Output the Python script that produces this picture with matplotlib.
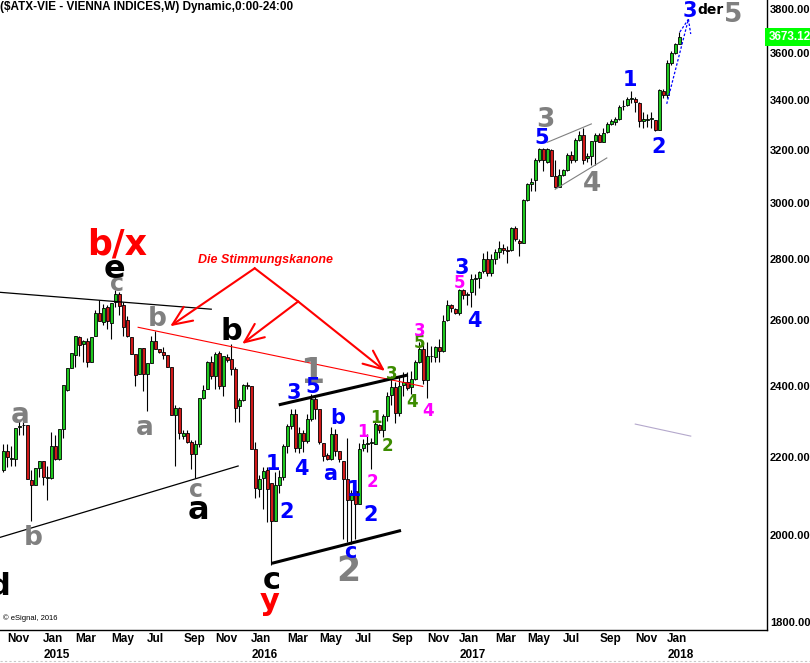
import matplotlib
matplotlib.use("Agg")
import matplotlib.pyplot as plt
import matplotlib.dates as mdates
from matplotlib.lines import Line2D
from matplotlib.ticker import FixedLocator, FuncFormatter, NullLocator
import pandas as pd

plt.rcParams["font.family"] = ["Liberation Sans", "DejaVu Sans"]

# weekly bars, $ATX-VIE
dates = pd.date_range("2014-10-27", periods=170, freq="7D")
opens = [2167, 2216, 2195, 2196, 2282, 2287, 2289, 2140, 2126, 2172,
         2189, 2145, 2145, 2231, 2196, 2277, 2388, 2452, 2493, 2548,
         2527, 2534, 2470, 2551, 2624, 2593, 2642, 2590, 2658, 2686,
         2650, 2600, 2548, 2496, 2435, 2512, 2435, 2467, 2536, 2510,
         2502, 2492, 2457, 2316, 2335, 2257, 2266, 2241, 2208, 2236,
         2365, 2391, 2470, 2430, 2498, 2400, 2487, 2480, 2450, 2342,
         2360, 2403, 2401, 2223, 2117, 2145, 2166, 2132, 2036, 2127,
         2148, 2231, 2285, 2318, 2225, 2266, 2243, 2305, 2362, 2333,
         2238, 2205, 2196, 2263, 2217, 2190, 2143, 2088, 2110, 2078,
         2225, 2236, 2238, 2236, 2288, 2274, 2313, 2372, 2396, 2321,
         2403, 2410, 2397, 2420, 2470, 2510, 2416, 2488, 2485, 2515,
         2505, 2600, 2648, 2635, 2622, 2697, 2682, 2690, 2733, 2736,
         2762, 2800, 2755, 2803, 2826, 2840, 2834, 2834, 2910, 2865,
         2855, 3012, 3070, 3086, 3162, 3204, 3155, 3200, 3100, 3060,
         3103, 3124, 3182, 3162, 3240, 3260, 3168, 3177, 3234, 3260,
         3232, 3270, 3303, 3312, 3325, 3375, 3380, 3405, 3406, 3390,
         3313, 3320, 3322, 3320, 3278, 3440, 3422, 3556, 3603, 3640]
highs = [2235, 2235, 2231, 2279, 2300, 2297, 2289, 2165, 2170, 2191,
         2191, 2177, 2268, 2259, 2277, 2403, 2452, 2498, 2551, 2551,
         2537, 2544, 2548, 2633, 2664, 2651, 2648, 2656, 2697, 2692,
         2660, 2613, 2548, 2496, 2512, 2512, 2467, 2551, 2567, 2510,
         2517, 2492, 2457, 2345, 2340, 2273, 2273, 2248, 2246, 2365,
         2403, 2473, 2490, 2502, 2505, 2490, 2496, 2525, 2455, 2365,
         2406, 2412, 2401, 2240, 2153, 2173, 2173, 2132, 2160, 2166,
         2236, 2290, 2332, 2332, 2282, 2275, 2318, 2375, 2368, 2333,
         2238, 2210, 2282, 2277, 2217, 2190, 2253, 2115, 2130, 2238,
         2250, 2263, 2253, 2297, 2292, 2320, 2382, 2430, 2410, 2430,
         2440, 2440, 2445, 2477, 2531, 2531, 2531, 2520, 2520, 2541,
         2617, 2664, 2651, 2640, 2700, 2700, 2692, 2750, 2750, 2760,
         2823, 2828, 2817, 2837, 2863, 2852, 2846, 2914, 2916, 2869,
         3015, 3072, 3094, 3168, 3208, 3206, 3206, 3204, 3160, 3125,
         3128, 3187, 3195, 3247, 3273, 3287, 3187, 3236, 3265, 3265,
         3287, 3310, 3323, 3333, 3380, 3400, 3413, 3440, 3413, 3393,
         3350, 3345, 3350, 3320, 3445, 3445, 3570, 3610, 3646, 3697]
lows = [2161, 2175, 2177, 2177, 2259, 2259, 2143, 2036, 2126, 2148,
        2126, 2088, 2142, 2192, 2192, 2252, 2386, 2452, 2455, 2490,
        2470, 2455, 2470, 2551, 2596, 2585, 2572, 2541, 2642, 2616,
        2550, 2548, 2496, 2400, 2435, 2386, 2328, 2467, 2510, 2498,
        2480, 2457, 2316, 2177, 2250, 2250, 2238, 2169, 2145, 2227,
        2362, 2391, 2420, 2391, 2391, 2370, 2470, 2431, 2296, 2296,
        2355, 2391, 2223, 2092, 2096, 2066, 2033, 1929, 2036, 2105,
        2140, 2210, 2278, 2213, 2210, 2213, 2238, 2298, 2305, 2236,
        2190, 2192, 2192, 2203, 2187, 1990, 1985, 1980, 1990, 2078,
        2217, 2213, 2169, 2236, 2266, 2255, 2298, 2346, 2295, 2313,
        2370, 2388, 2375, 2418, 2468, 2405, 2366, 2470, 2470, 2470,
        2500, 2597, 2627, 2620, 2615, 2667, 2648, 2642, 2680, 2705,
        2755, 2745, 2745, 2783, 2806, 2817, 2789, 2828, 2863, 2811,
        2855, 3006, 3043, 3043, 3155, 3120, 3150, 3100, 3055, 3057,
        3100, 3118, 3150, 3155, 3237, 3145, 3155, 3140, 3140, 3230,
        3230, 3268, 3300, 3300, 3320, 3360, 3377, 3390, 3350, 3290,
        3288, 3292, 3288, 3275, 3278, 3410, 3410, 3550, 3595, 3640]
closes = [2216, 2200, 2199, 2279, 2286, 2289, 2143, 2126, 2170, 2189,
          2148, 2148, 2231, 2196, 2277, 2403, 2452, 2498, 2551, 2524,
          2534, 2470, 2548, 2624, 2596, 2640, 2596, 2656, 2686, 2645,
          2578, 2551, 2496, 2433, 2512, 2435, 2467, 2536, 2510, 2502,
          2492, 2457, 2316, 2337, 2267, 2266, 2241, 2208, 2236, 2365,
          2388, 2470, 2430, 2496, 2400, 2490, 2477, 2450, 2335, 2360,
          2403, 2400, 2223, 2119, 2143, 2163, 2117, 2036, 2127, 2148,
          2231, 2285, 2318, 2225, 2266, 2243, 2305, 2362, 2333, 2241,
          2203, 2196, 2263, 2217, 2195, 2143, 2088, 2107, 2078, 2223,
          2236, 2238, 2241, 2290, 2274, 2313, 2370, 2396, 2321, 2401,
          2410, 2395, 2420, 2470, 2510, 2416, 2490, 2490, 2515, 2505,
          2597, 2648, 2638, 2622, 2697, 2682, 2686, 2733, 2739, 2758,
          2800, 2755, 2800, 2826, 2840, 2832, 2828, 2910, 2870, 2857,
          3012, 3068, 3078, 3162, 3204, 3160, 3204, 3100, 3060, 3103,
          3124, 3182, 3162, 3240, 3260, 3162, 3177, 3234, 3260, 3232,
          3267, 3303, 3314, 3322, 3373, 3378, 3407, 3408, 3393, 3313,
          3323, 3325, 3327, 3278, 3442, 3422, 3556, 3603, 3640, 3673.12]
last_price = 3673.12
y_ticks = [1800, 2000, 2200, 2400, 2600, 2800, 3000, 3200, 3400, 3600, 3800]

GREY, BLUE, MAG, GRN = "#808080", "#0000ff", "#ff00ff", "#3c8c00"
WAVE = "DejaVu Sans"

# wave counts: (date, price, text, colour, size)
labels = [
    ("2014-11-25", 2316, "a", GREY, 20), ("2014-12-18", 1993, "b", GREY, 19),
    ("2014-10-20", 1880, "d", "black", 22), ("2015-05-14", 2716, "c", GREY, 17),
    ("2015-05-09", 2766, "e", "black", 23), ("2015-05-14", 2852, "b/x", "red", 25),
    ("2015-07-23", 2603, "b", GREY, 19), ("2015-07-02", 2280, "a", GREY, 19),
    ("2015-09-30", 2113, "c", GREY, 17), ("2015-10-03", 2061, "a", "black", 23),
    ("2015-11-30", 2563, "b", "black", 22), ("2016-02-09", 1893, "c", "black", 22),
    ("2016-02-05", 1846, "y", "red", 22), ("2016-04-19", 2438, "1", GREY, 25),
    ("2016-06-21", 1916, "2", GREY, 25),
    ("2016-03-18", 2380, "3", BLUE, 15), ("2016-04-21", 2396, "5", BLUE, 15),
    ("2016-02-11", 2183, "1", BLUE, 15), ("2016-03-06", 2058, "2", BLUE, 15),
    ("2016-04-01", 2169, "4", BLUE, 15), ("2016-06-04", 2308, "b", BLUE, 15),
    ("2016-05-21", 2156, "a", BLUE, 15), ("2016-07-01", 2113, "1", BLUE, 15),
    ("2016-07-30", 2050, "2", BLUE, 15), ("2016-06-25", 1961, "c", BLUE, 15),
    ("2016-07-18", 2269, "1", MAG, 12), ("2016-08-03", 2134, "2", MAG, 12),
    ("2016-08-09", 2308, "1", GRN, 12), ("2016-08-29", 2231, "2", GRN, 12),
    ("2016-09-06", 2435, "3", GRN, 12), ("2016-10-11", 2352, "4", GRN, 12),
    ("2016-11-09", 2328, "4", MAG, 12), ("2016-10-25", 2529, "5", GRN, 12),
    ("2016-10-25", 2565, "3", MAG, 12), ("2017-01-03", 2722, "5", MAG, 12),
    ("2017-01-06", 2770, "3", BLUE, 15), ("2017-01-28", 2598, "4", BLUE, 15),
    ("2017-06-01", 3320, "3", GREY, 19), ("2017-05-26", 3246, "5", BLUE, 15),
    ("2017-08-23", 3070, "4", GREY, 19), ("2017-10-27", 3486, "1", BLUE, 15),
    ("2017-12-16", 3210, "2", BLUE, 15), ("2018-02-09", 3790, "3", BLUE, 15),
    ("2018-03-17", 3795, "der", "black", 10), ("2018-04-27", 3772, "5", GREY, 19),
]

# drawn lines: (date0, price0, date1, price1, colour, width)
trendlines = [
    ("2014-10-21", 2690, "2015-10-27", 2635, "black", 0.9),
    ("2014-10-21", 1995, "2015-12-13", 2177, "black", 0.9),
    ("2015-06-19", 2578, "2016-10-31", 2398, "red", 0.8),
    ("2016-02-21", 2345, "2016-10-04", 2432, "black", 2.2),
    ("2016-02-09", 1933, "2016-09-22", 2012, "black", 2.2),
    ("2017-06-04", 3229, "2017-08-22", 3304, GREY, 0.8),
    ("2017-06-18", 3049, "2017-09-18", 3170, GREY, 0.8),
    ("2017-11-05", 2291, "2018-02-12", 2257, "#b4a8cc", 0.8),
]
projection = [
    ("2017-12-31", 3385, "2018-02-07", 3753),
    ("2018-01-23", 3695, "2018-02-07", 3753),
    ("2018-02-07", 3753, "2018-02-11", 3686),
]
# red arrows: (from date, from price, to date, to price)
arrows = [
    ("2016-01-10", 2770, "2015-08-15", 2581),
    ("2016-03-26", 2660, "2015-12-19", 2526),
    ("2016-03-26", 2660, "2016-08-25", 2444),
]
arrow_link = ("2016-01-10", 2770, "2016-03-26", 2660)


def dn(s):
    return mdates.date2num(pd.Timestamp(s))


fig = plt.figure(figsize=(8.1, 6.63), dpi=100)
ax = fig.add_axes([0, 33 / 663, 767 / 810, 630 / 663])
ax.set_yscale("log")

x = mdates.date2num(dates)
up = [c >= o for o, c in zip(opens, closes)]
ax.vlines(x, lows, highs, color="black", lw=0.8, zorder=2)
ax.bar(x, [max(abs(c - o), 1.5) for o, c in zip(opens, closes)],
       bottom=[min(o, c) for o, c in zip(opens, closes)], width=4.5,
       color=["#1ec81e" if u else "#d01818" for u in up],
       edgecolor="black", linewidth=0.6, zorder=3)

for d0, p0, d1, p1, col, lw in trendlines:
    ax.plot([dn(d0), dn(d1)], [p0, p1], color=col, lw=lw, zorder=4,
            solid_capstyle="butt")
for d0, p0, d1, p1 in projection:
    ax.plot([dn(d0), dn(d1)], [p0, p1], color=BLUE, lw=0.9, ls=(0, (2, 1.5)), zorder=4)

ax.plot([dn(arrow_link[0]), dn(arrow_link[2])], [arrow_link[1], arrow_link[3]],
        color="red", lw=1.5, zorder=5)
for d0, p0, d1, p1 in arrows:
    ax.annotate("", xy=(dn(d1), p1), xytext=(dn(d0), p0),
                arrowprops=dict(arrowstyle="->,head_length=0.7,head_width=0.3",
                                color="red", lw=1.5, shrinkA=0, shrinkB=0,
                                mutation_scale=20), zorder=5)
ax.text(dn("2016-01-28"), 2797, "Die Stimmungskanone", color="red", fontsize=9,
        fontweight="bold", fontstyle="italic", ha="center", va="center", zorder=6)

for d, p, t, col, sz in labels:
    ax.text(dn(d), p, t, color=col, fontsize=sz, fontweight="bold", family=WAVE,
            ha="center", va="center", zorder=6)

# axes
base = dn("2015-01-05")
ax.set_xlim(base - 75.8, base + 1266.5)
ax.set_ylim(1782, 3842)
ax.yaxis.set_major_locator(FixedLocator(y_ticks))
ax.yaxis.set_minor_locator(NullLocator())
ax.yaxis.set_major_formatter(FuncFormatter(lambda v, _: f"{v:.2f}"))
ax.yaxis.tick_right()
ax.tick_params(axis="y", length=0, pad=2, labelsize=8)
for lab in ax.get_yticklabels():
    lab.set_fontweight("bold")

tick_x, tick_lab, prev = [], [], None
for d in dates:
    if d.month != prev and d.month % 2 == 1:
        tick_x.append(mdates.date2num(d))
        tick_lab.append(d.strftime("%b") + (f"\n{d.year}" if d.month == 1 else ""))
    prev = d.month
ax.set_xticks(tick_x)
ax.set_xticklabels(tick_lab, ha="left", fontsize=8.5, fontweight="bold", linespacing=1.5)
ax.tick_params(axis="x", length=0, pad=2)

for side in ("left", "top"):
    ax.spines[side].set_visible(False)
for side in ("right", "bottom"):
    ax.spines[side].set_linewidth(1.0)

ax.annotate(f"{last_price:.3f}", xy=(1, last_price), xycoords=("axes fraction", "data"),
            xytext=(1, 0), textcoords="offset points", ha="left", va="center",
            color="white", fontsize=8.5, fontweight="bold",
            bbox=dict(boxstyle="square,pad=0.25", fc="#00ff00", ec="none"),
            annotation_clip=False)

ax.text(3 / 767, 0.016, "\u00a9 eSignal, 2016", transform=ax.transAxes, fontsize=5.5)
fig.text(0, 1 - 7 / 663, r"(\$ATX-VIE - VIENNA INDICES,W) Dynamic,0:00-24:00",
         fontsize=8.5, fontweight="bold", ha="left", va="center")
fig.add_artist(Line2D([0, 1], [2 / 663, 2 / 663], transform=fig.transFigure,
                      color="#c8c8c8", lw=0.8, ls=(0, (2, 2))))

fig.savefig("out.png", dpi=100)
